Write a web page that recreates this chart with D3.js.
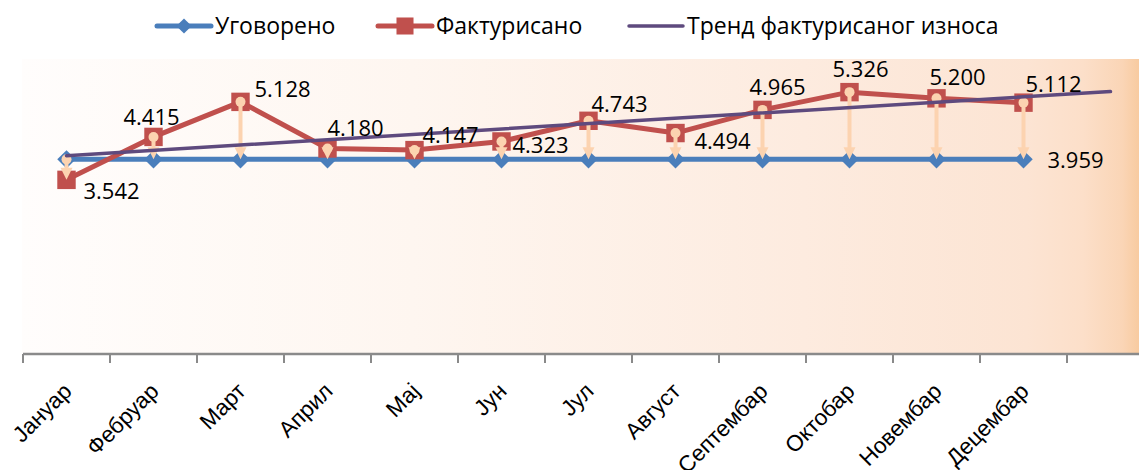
<!DOCTYPE html>
<html><head><meta charset="utf-8">
<script src="https://cdn.jsdelivr.net/npm/d3@7"></script>
<style>
html,body{margin:0;padding:0;background:#fff;}
svg{display:block;font-family:"Open Sans",sans-serif;}
</style></head>
<body>
<svg id="c" width="1139" height="470"></svg>
<script>
// ---- data ----
const months = ["Јануар","Фебруар","Март","Април","Мај","Јун","Јул","Август","Септембар","Октобар","Новембар","Децембар"];
const ugovoreno = [3.959,3.959,3.959,3.959,3.959,3.959,3.959,3.959,3.959,3.959,3.959,3.959];
const fakturisano = [3.542,4.415,5.128,4.180,4.147,4.323,4.743,4.494,4.965,5.326,5.200,5.112];
const seriesNames = ["Уговорено","Фактурисано","Тренд фактурисаног износа"];
const ugovLabelIndex = [11];

// label placement offsets (style, not data): [dx, dy] from the point
const faktLabelOffsets = [[17,19],[-30,-12],[14,-5],[0,-12],[8,-7],[11,12],[3,-9],[19,16],[-13,-15],[-17,-15],[-7,-13],[2,-11]];
const ugovLabelOffset = [24,9];

const fmt = v => v.toFixed(3);

const svg = d3.select("#c");
const W = 1139, H = 470;
const left = 23, band = 87, nBands = 13; // 13th band is the forecast slot of the trend
const x = d3.scaleBand().domain(d3.range(nBands)).range([left, left + band*nBands]).paddingInner(0).paddingOuter(0);
const cx = i => x(i) + x.bandwidth()/2;
const y = d3.scaleLinear().domain([0,6]).range([354,59]);

const C = {blue:"#4a7ebb", red:"#c0504d", purple:"#5e4a7e", peach:"#fcd3b0", axis:"#8a8a8a"};

// background gradient
const defs = svg.append("defs");
const g1 = defs.append("linearGradient").attr("id","bg").attr("x1","0").attr("x2","1").attr("y1","0").attr("y2","0");
[[0,"#fffdfc"],[0.35,"#fef6f0"],[0.7,"#fdebdf"],[0.9,"#fce4d3"],[0.95,"#fcdfc9"],[0.985,"#fad5b6"],[1,"#f8cba0"]].forEach(s=>
  g1.append("stop").attr("offset",s[0]).attr("stop-color",s[1]));
svg.append("rect").attr("x",left-1).attr("y",y(6)).attr("width",W-left+1).attr("height",y(0)-y(6)).attr("fill","url(#bg)");

// axis
const xAxis = d3.axisBottom(x).tickSize(0).tickFormat("");
const ax = svg.append("g").attr("transform",`translate(0,${y(0)})`).call(xAxis);
ax.select(".domain").attr("stroke",C.axis).attr("stroke-width",2.5).attr("d",`M${left},0H${left+band*nBands}`);
ax.selectAll(".tick").remove();
ax.selectAll("line.tk").data(d3.range(nBands+1)).join("line").attr("class","tk")
  .attr("x1",i=>left+band*i).attr("x2",i=>left+band*i).attr("y1",0).attr("y2",9)
  .attr("stroke",C.axis).attr("stroke-width",2);
ax.selectAll("text.lbl").data(months).join("text").attr("class","lbl")
  .attr("transform",(d,i)=>`translate(${cx(i)+1},33) rotate(-45)`)
  .attr("text-anchor","end").attr("dy","0.35em")
  .attr("font-size",22.5).attr("fill","#000").text(d=>d);

// Ugovoreno line + diamonds
const line = d3.line().x((d,i)=>cx(i)).y(d=>y(d));
svg.append("path").datum(ugovoreno).attr("d",line).attr("fill","none").attr("stroke",C.blue).attr("stroke-width",5);
svg.selectAll("path.dia").data(ugovoreno).join("path").attr("class","dia")
  .attr("transform",(d,i)=>`translate(${cx(i)},${y(d)}) rotate(45)`)
  .attr("d",d3.symbol().type(d3.symbolSquare).size(170)).attr("fill",C.blue);

// Fakturisano
svg.append("path").datum(fakturisano).attr("d",line).attr("fill","none").attr("stroke",C.red).attr("stroke-width",5).attr("stroke-linejoin","round");
svg.selectAll("path.sq").data(fakturisano).join("path").attr("class","sq")
  .attr("transform",(d,i)=>`translate(${cx(i)},${y(d)})`)
  .attr("d",d3.symbol().type(d3.symbolSquare).size(340)).attr("fill",C.red);

// difference arrows
const arr = svg.append("g");
fakturisano.forEach((v,i)=>{
  const top = y(Math.max(v,ugovoreno[i])), bot = y(Math.min(v,ugovoreno[i]));
  const X = cx(i);
  arr.append("line").attr("x1",X).attr("x2",X).attr("y1",top).attr("y2",bot-8)
    .attr("stroke",C.peach).attr("stroke-width",4);
  arr.append("circle").attr("cx",X).attr("cy",top).attr("r",5).attr("fill",C.peach);
  arr.append("path").attr("d",`M${X-6},${bot-12}L${X+6},${bot-12}L${X},${bot}Z`).attr("fill",C.peach);
});

// trend line (least squares on fakturisano, projected one period forward)
const n = fakturisano.length;
const mx = d3.mean(d3.range(n)), my = d3.mean(fakturisano);
const slope = d3.sum(fakturisano,(v,i)=>(i-mx)*(v-my))/d3.sum(d3.range(n),i=>(i-mx)*(i-mx));
const icpt = my - slope*mx;
svg.append("line").attr("x1",cx(0)).attr("y1",y(icpt)).attr("x2",cx(n)).attr("y2",y(icpt+slope*n))
  .attr("stroke",C.purple).attr("stroke-width",3.5).attr("stroke-linecap","round");

// data labels
svg.selectAll("text.fl").data(fakturisano).join("text").attr("class","fl")
  .attr("x",(d,i)=>cx(i)+faktLabelOffsets[i][0]).attr("y",(d,i)=>y(d)+faktLabelOffsets[i][1])
  .attr("font-size",22).attr("fill","#000").text(fmt);
svg.selectAll("text.ul").data(ugovLabelIndex).join("text").attr("class","ul")
  .attr("x",i=>cx(i)+ugovLabelOffset[0]).attr("y",i=>y(ugovoreno[i])+ugovLabelOffset[1])
  .attr("font-size",22).attr("fill","#000").text(i=>fmt(ugovoreno[i]));

// legend
const lg = svg.append("g").attr("font-size",23);
const legendItems = [
  {name:seriesNames[0], x:157, color:C.blue, marker:"diamond"},
  {name:seriesNames[1], x:378, color:C.red, marker:"square"},
  {name:seriesNames[2], x:629, color:C.purple, marker:null}
];
legendItems.forEach(it=>{
  const ly = 26;
  lg.append("line").attr("x1",it.x).attr("x2",it.x+54).attr("y1",ly).attr("y2",ly)
    .attr("stroke",it.color).attr("stroke-width",it.marker?5:3.5).attr("stroke-linecap","round");
  if(it.marker==="diamond") lg.append("path").attr("transform",`translate(${it.x+27},${ly}) rotate(45)`)
    .attr("d",d3.symbol().type(d3.symbolSquare).size(115)).attr("fill",it.color);
  if(it.marker==="square") lg.append("path").attr("transform",`translate(${it.x+27},${ly})`)
    .attr("d",d3.symbol().type(d3.symbolSquare).size(290)).attr("fill",it.color);
  lg.append("text").attr("x",it.x+58).attr("y",ly).attr("dy","0.36em").attr("fill","#000").text(it.name);
});
</script>
</body></html>
